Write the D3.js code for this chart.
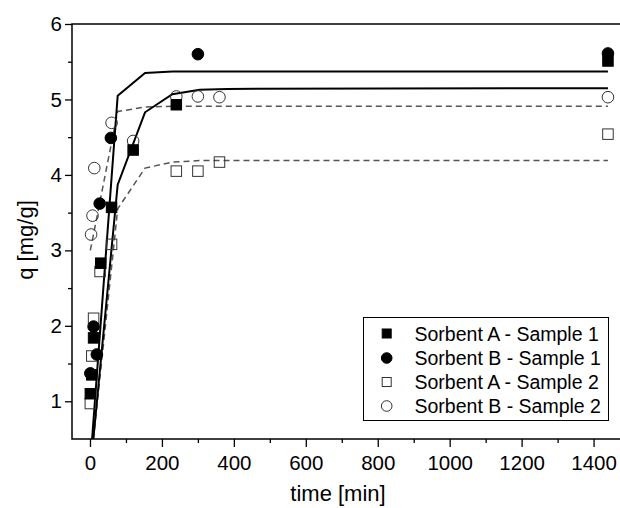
<!DOCTYPE html>
<html>
<head>
	<script src="https://d3js.org/d3.v7.min.js"></script>
	<style>
		body { margin: 0; background: #fff; }
		text { font-family: 'Liberation Sans', Arial, sans-serif; }
	</style>
</head>
<body>
<svg id="chart"></svg>
<script>
// data
let seriesNames = ['Sorbent A - Sample 1', 'Sorbent B - Sample 1', 'Sorbent A - Sample 2', 'Sorbent B - Sample 2'];

let timeAS1 = [1, 5, 10, 30, 60, 120, 240, 1440];
let qAS1 = [1.1, 1.35, 1.84, 2.83, 3.57, 4.33, 4.93, 5.51];

let timeBS1 = [1, 10, 19, 27, 58, 300, 1440];
let qBS1 = [1.37, 1.99, 1.62, 3.62, 4.49, 5.6, 5.61];

let timeAS2 = [1, 5, 10, 28, 60, 240, 300, 360, 1440];
let qAS2 = [0.97, 1.6, 2.1, 2.72, 3.08, 4.05, 4.05, 4.17, 4.54];

let timeBS2 = [3, 7, 12, 60, 120, 240, 300, 360, 1440];
let qBS2 = [3.21, 3.46, 4.09, 4.69, 4.45, 5.04, 5.04, 5.03, 5.03];

// fitted curves (vertices as drawn)
let fitTime = [1, 77, 153, 229, 305, 381, 1440];
let fitAS1 = [0.09, 3.87, 4.83, 5.07, 5.13, 5.14, 5.15];
let fitBS1 = [0.19, 5.05, 5.35, 5.37, 5.37, 5.37, 5.37];
let fitAS2 = [0.1, 3.55, 4.09, 4.17, 4.19, 4.19, 4.19];
let fitBS2 = [3.0, 4.84, 4.90, 4.91, 4.91, 4.91, 4.91];

let xMajor = [0, 200, 400, 600, 800, 1000, 1200, 1400];
let xMinor = [100, 300, 500, 700, 900, 1100, 1300, 1500];
let yMajor = [1, 2, 3, 4, 5, 6];
let yMinor = [1.5, 2.5, 3.5, 4.5, 5.5];
</script>

<script>
let svg = d3.select('#chart')
	.attr('width', 620)
	.attr('height', 508);

let x = d3.scaleLinear().domain([-50, 1500]).range([72, 72 + 1550 * 0.3597]);
let y = d3.scaleLinear().domain([0.5, 6]).range([439, 24]);

// clip for everything inside the frame
svg.append('defs').append('clipPath').attr('id', 'plotClip')
	.append('rect')
	.attr('x', x(-50)).attr('y', y(6))
	.attr('width', x(1500) - x(-50)).attr('height', y(0.5) - y(6));

// frame
svg.append('rect')
	.attr('x', x(-50)).attr('y', y(6))
	.attr('width', x(1500) - x(-50)).attr('height', y(0.5) - y(6))
	.attr('fill', 'none')
	.attr('stroke', '#000')
	.attr('stroke-width', 1.5);

// axes
let styleAxis = function(g) {
	g.select('.domain').remove();
	g.selectAll('line').attr('stroke', '#000').attr('stroke-width', 1.3);
	g.selectAll('text').attr('font-size', '20.5px').attr('fill', '#000')
		.style('font-family', "'Liberation Sans', Arial, sans-serif");
};

svg.append('g')
	.attr('transform', 'translate(0,' + y(0.5) + ')')
	.call(d3.axisBottom(x).tickValues(xMajor).tickSize(8).tickPadding(8).tickFormat(d3.format('d')))
	.call(styleAxis);
svg.append('g')
	.attr('transform', 'translate(0,' + y(0.5) + ')')
	.call(d3.axisBottom(x).tickValues(xMinor).tickSize(4).tickFormat(''))
	.call(styleAxis);

svg.append('g')
	.attr('transform', 'translate(' + x(-50) + ',0)')
	.call(d3.axisLeft(y).tickValues(yMajor).tickSize(7).tickPadding(3).tickFormat(d3.format('d')))
	.call(styleAxis);
svg.append('g')
	.attr('transform', 'translate(' + x(-50) + ',0)')
	.call(d3.axisLeft(y).tickValues(yMinor).tickSize(4).tickFormat(''))
	.call(styleAxis);

// axis titles
svg.append('text')
	.attr('x', 338).attr('y', 501)
	.attr('text-anchor', 'middle')
	.attr('font-size', '22px')
	.text('time [min]');

svg.append('text')
	.attr('transform', 'translate(32.5,240) rotate(-90)')
	.attr('text-anchor', 'middle')
	.attr('font-size', '22px')
	.text('q [mg/g]');

// fit lines
let plot = svg.append('g').attr('clip-path', 'url(#plotClip)');

let line = d3.line()
	.x((d) => { return x(d[0]) })
	.y((d) => { return y(d[1]) });

let addFit = function(values, dashed) {
	plot.append('path')
		.datum(fitTime.map((t, i) => [t, values[i]]))
		.attr('d', line)
		.attr('fill', 'none')
		.attr('stroke', dashed ? '#555' : '#000')
		.attr('stroke-width', dashed ? 1.5 : 2)
		.attr('stroke-dasharray', dashed ? '6,4' : null);
};
addFit(fitAS2, true);
addFit(fitBS2, true);
addFit(fitAS1, false);
addFit(fitBS1, false);

// markers
let addSquares = function(times, qs, filled, size) {
	plot.append('g').selectAll('rect')
		.data(times.map((t, i) => [t, qs[i]]))
		.join('rect')
		.attr('x', (d) => { return x(d[0]) - size / 2 })
		.attr('y', (d) => { return y(d[1]) - size / 2 })
		.attr('width', size)
		.attr('height', size)
		.attr('fill', filled ? '#000' : 'none')
		.attr('stroke', filled ? '#000' : '#333')
		.attr('stroke-width', 1);
};
let addCircles = function(times, qs, filled, r) {
	plot.append('g').selectAll('circle')
		.data(times.map((t, i) => [t, qs[i]]))
		.join('circle')
		.attr('cx', (d) => { return x(d[0]) })
		.attr('cy', (d) => { return y(d[1]) })
		.attr('r', r)
		.attr('fill', filled ? '#000' : 'none')
		.attr('stroke', filled ? '#000' : '#333')
		.attr('stroke-width', 1);
};
addSquares(timeAS2, qAS2, false, 10.5);
addCircles(timeBS2, qBS2, false, 5.8);
addSquares(timeAS1, qAS1, true, 10.5);
addCircles(timeBS1, qBS1, true, 5.8);

// legend
let legend = svg.append('g');
legend.append('rect')
	.attr('x', 363.5).attr('y', 317.5)
	.attr('width', 245).attr('height', 103)
	.attr('fill', '#fff')
	.attr('stroke', '#000')
	.attr('stroke-width', 1);

let rowY = [333.5, 358, 382, 406];
seriesNames.forEach((name, i) => {
	let cy = rowY[i];
	let filled = i < 2;
	if (i % 2 === 0) {
		legend.append('rect')
			.attr('x', 386.7 - 4.5).attr('y', cy - 4.5)
			.attr('width', 9).attr('height', 9)
			.attr('fill', filled ? '#000' : 'none')
			.attr('stroke', filled ? '#000' : '#333');
	} else {
		legend.append('circle')
			.attr('cx', 386.7).attr('cy', cy)
			.attr('r', 5.3)
			.attr('fill', filled ? '#000' : 'none')
			.attr('stroke', filled ? '#000' : '#333');
	}
	legend.append('text')
		.attr('x', 414.5).attr('y', cy + 7)
		.attr('font-size', '19.5px')
		.text(name);
});
</script>
</body>
</html>
